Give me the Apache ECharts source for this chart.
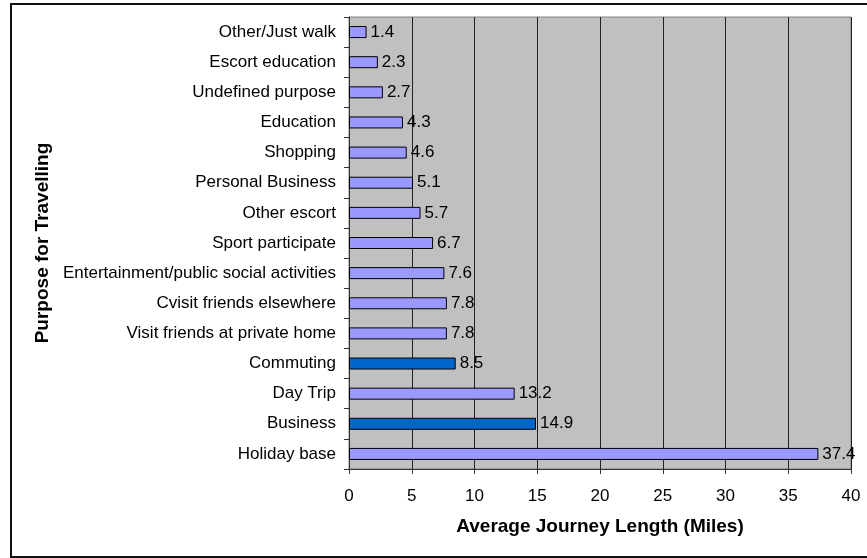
<!DOCTYPE html>
<html><head><meta charset="utf-8">
<script src="https://cdn.jsdelivr.net/npm/echarts@6/dist/echarts.min.js"></script>
<style>html,body{margin:0;padding:0;background:#fff}#c{width:867px;height:558px}</style>
</head><body><div id="c"></div>
<script>
// bottom to top
var categories = ["Holiday base","Business","Day Trip","Commuting","Visit friends at private home","Cvisit friends elsewhere","Entertainment/public social activities","Sport participate","Other escort","Personal Business","Shopping","Education","Undefined purpose","Escort education","Other/Just walk"];
var values = [37.4,14.9,13.2,8.5,7.8,7.8,7.6,6.7,5.7,5.1,4.6,4.3,2.7,2.3,1.4];
var highlighted = ["Business","Commuting"];
var xTicks = [0,5,10,15,20,25,30,35,40];

var chart = echarts.init(document.getElementById('c'), null, {renderer:'canvas'});
var font = 'Liberation Sans, Arial, sans-serif';
chart.setOption({
  animation:false,
  graphic:[{type:'rect',shape:{x:11,y:4,width:870,height:553},style:{fill:'none',stroke:'#111',lineWidth:2},z:100}],
  grid:{left:349,right:16,top:17,bottom:89,show:true,backgroundColor:'#C0C0C0',borderColor:'#808080',borderWidth:1},
  xAxis:{type:'value',min:0,max:40,interval:5,
    axisLine:{show:true,lineStyle:{color:'#333',width:1}},
    axisTick:{show:true,length:5,lineStyle:{color:'#333'}},
    axisLabel:{color:'#000',fontFamily:font,fontSize:17,margin:19,formatter:function(v){return xTicks.indexOf(v)>=0?String(v):'';}},
    splitLine:{show:true,lineStyle:{color:'#222',width:1}},
    name:'Average Journey Length (Miles)',nameLocation:'middle',nameGap:48,
    nameTextStyle:{color:'#000',fontFamily:font,fontSize:19,fontWeight:'bold'}},
  yAxis:{type:'category',data:categories,
    axisLine:{show:true,lineStyle:{color:'#333',width:1}},
    axisTick:{show:true,length:5,lineStyle:{color:'#333'}},
    axisLabel:{color:'#000',fontFamily:font,fontSize:17,margin:13},
    name:'Purpose for Travelling',nameLocation:'middle',nameGap:297,nameRotate:90,
    nameTextStyle:{color:'#000',fontFamily:font,fontSize:19,fontWeight:'bold'}},
  series:[{type:'bar',barWidth:12,
    data:values.map(function(v,i){return {value:v,itemStyle:{color:highlighted.indexOf(categories[i])>=0?'#0066CC':'#9999FF'}};}),
    itemStyle:{borderColor:'#000',borderWidth:1},
    label:{show:true,position:'right',distance:4,color:'#000',fontFamily:font,fontSize:17}
  }]
});
</script></body></html>
